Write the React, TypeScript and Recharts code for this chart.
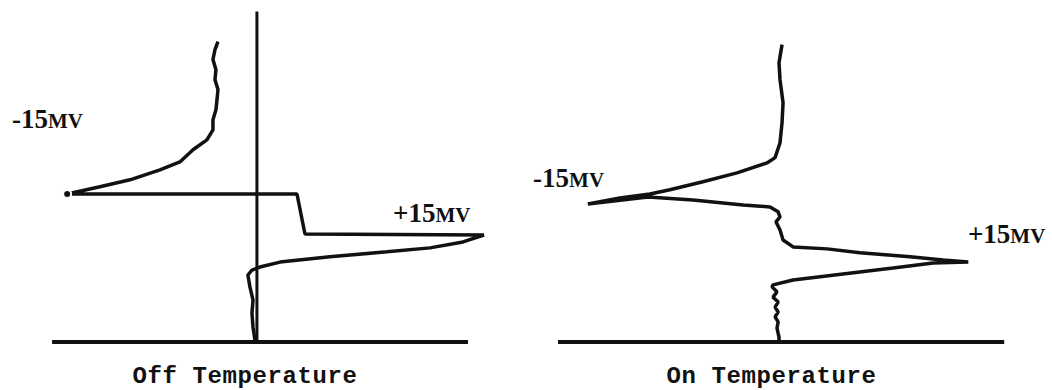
import React from 'react';
import { LineChart, Line, XAxis, YAxis, ReferenceLine, ReferenceDot } from 'recharts';

// trace deflection (u, arbitrary mV units, 0 = null) vs. height above baseline (h)
const offU = [-2.84, -3.06, -3.21, -2.99, -3.06, -2.84, -2.91, -2.99, -3.21, -3.21, -3.66, -4.69, -5.66, -7.14, -9.36, -11.59, -14.02, 3.02, 3.61, 16.88, 15.33, 12.88, 9.69, 5.46, 1.76, 0.27, -0.32, -0.62, -0.47, -0.24, -0.32, -0.24, -0.1, -0.02];
const offH = [90.9, 88.5, 85.5, 82.4, 79.4, 76.4, 73.3, 70.3, 67.3, 64.2, 61.2, 58.2, 54.5, 52.1, 49.1, 47.0, 44.8, 44.8, 32.7, 32.4, 30.3, 28.5, 27.3, 25.8, 24.2, 22.7, 21.8, 20.3, 16.7, 12.7, 8.8, 4.5, 0.6, 0];

const onU = [0.27, 0.06, 0.13, 0.34, 0.27, 0.13, -0.21, -0.77, -2.84, -5.19, -7.47, -8.85, -10.92, -13.13, -8.98, -5.88, -2.42, -0.56, 0, 0.13, -0.15, 0.13, 0.34, 1.03, 3.38, 5.65, 9.11, 11.39, 13.12, 10.7, 7.93, 4.48, 1.03, -0.35, -0.42, -0.08, -0.35, 0, -0.21, 0, -0.21, 0, -0.08, 0.06, 0.06];
const onH = [90.0, 84.5, 79.4, 72.4, 66.4, 60.3, 55.8, 54.2, 51.2, 48.5, 46.1, 44.8, 43.6, 41.8, 43.9, 43.0, 41.5, 40.9, 39.4, 37.9, 36.4, 33.9, 30.9, 28.8, 28.2, 27.0, 25.8, 24.8, 24.2, 23.9, 22.4, 20.6, 18.8, 17.3, 16.7, 15.2, 13.6, 12.1, 10.6, 9.1, 7.6, 6.1, 4.2, 1.5, 0];

const titles = ['Off Temperature', 'On Temperature'];
const negLabel = '-15';
const posLabel = '+15';
const unit = 'MV';

const offData = offU.map((u, i) => ({ u, h: offH[i] }));
const onData = onU.map((u, i) => ({ u, h: onH[i] }));

const INK = '#111';

const mvLabel = (num: string) => (props: any) => (
  <text x={props.cx} y={props.cy} fill={INK} fontFamily="'Liberation Serif', serif" fontWeight="bold">
    <tspan fontSize={27}>{num}</tspan>
    <tspan fontSize={21}>{unit}</tspan>
  </text>
);

const titleLabel = (t: string) => (props: any) => (
  <text
    x={props.cx}
    y={props.cy}
    fill={INK}
    textAnchor="middle"
    fontFamily="'Liberation Mono', monospace"
    fontWeight="bold"
    fontSize={24}
    letterSpacing={0.6}
  >
    {t}
  </text>
);

const yDomain = [-14.5, 103.5];

export default function App() {
  return (
    <div style={{ position: 'absolute', left: 0, top: 0, width: 1052, height: 390, background: '#fff', display: 'flex' }}>
      <LineChart width={526} height={390} margin={{ top: 0, right: 0, bottom: 0, left: 0 }}>
        <XAxis type="number" dataKey="u" domain={[-19, 20]} allowDataOverflow hide />
        <YAxis type="number" domain={yDomain} allowDataOverflow hide />
        <ReferenceLine segment={[{ x: -15.14, y: 0 }, { x: 15.7, y: 0 }]} stroke={INK} strokeWidth={4} />
        <ReferenceLine segment={[{ x: 0.05, y: 0 }, { x: 0.05, y: 100 }]} stroke={INK} strokeWidth={3} />
        <Line
          data={offData}
          dataKey="h"
          type="linear"
          stroke={INK}
          strokeWidth={3.5}
          strokeLinejoin="bevel"
          dot={false}
          isAnimationActive={false}
        />
        <ReferenceDot x={-18.11} y={64.8} ifOverflow="visible" shape={mvLabel(negLabel)} />
        <ReferenceDot x={10.14} y={36.4} ifOverflow="visible" shape={mvLabel(posLabel)} />
        <ReferenceDot x={-0.84} y={-12.4} ifOverflow="visible" shape={titleLabel(titles[0])} />
      </LineChart>
      <LineChart width={526} height={390} margin={{ top: 0, right: 0, bottom: 0, left: 0 }}>
        <XAxis type="number" dataKey="u" domain={[-17.4, 18.9]} allowDataOverflow hide />
        <YAxis type="number" domain={yDomain} allowDataOverflow hide />
        <ReferenceLine segment={[{ x: -15.19, y: 0 }, { x: 15.6, y: 0 }]} stroke={INK} strokeWidth={4} />
        <Line
          data={onData}
          dataKey="h"
          type="linear"
          stroke={INK}
          strokeWidth={3.5}
          strokeLinejoin="bevel"
          dot={false}
          isAnimationActive={false}
        />
        <ReferenceDot x={-16.91} y={47.0} ifOverflow="visible" shape={mvLabel(negLabel)} />
        <ReferenceDot x={13.1} y={30.0} ifOverflow="visible" shape={mvLabel(posLabel)} />
        <ReferenceDot x={-0.46} y={-12.4} ifOverflow="visible" shape={titleLabel(titles[1])} />
      </LineChart>
    </div>
  );
}
